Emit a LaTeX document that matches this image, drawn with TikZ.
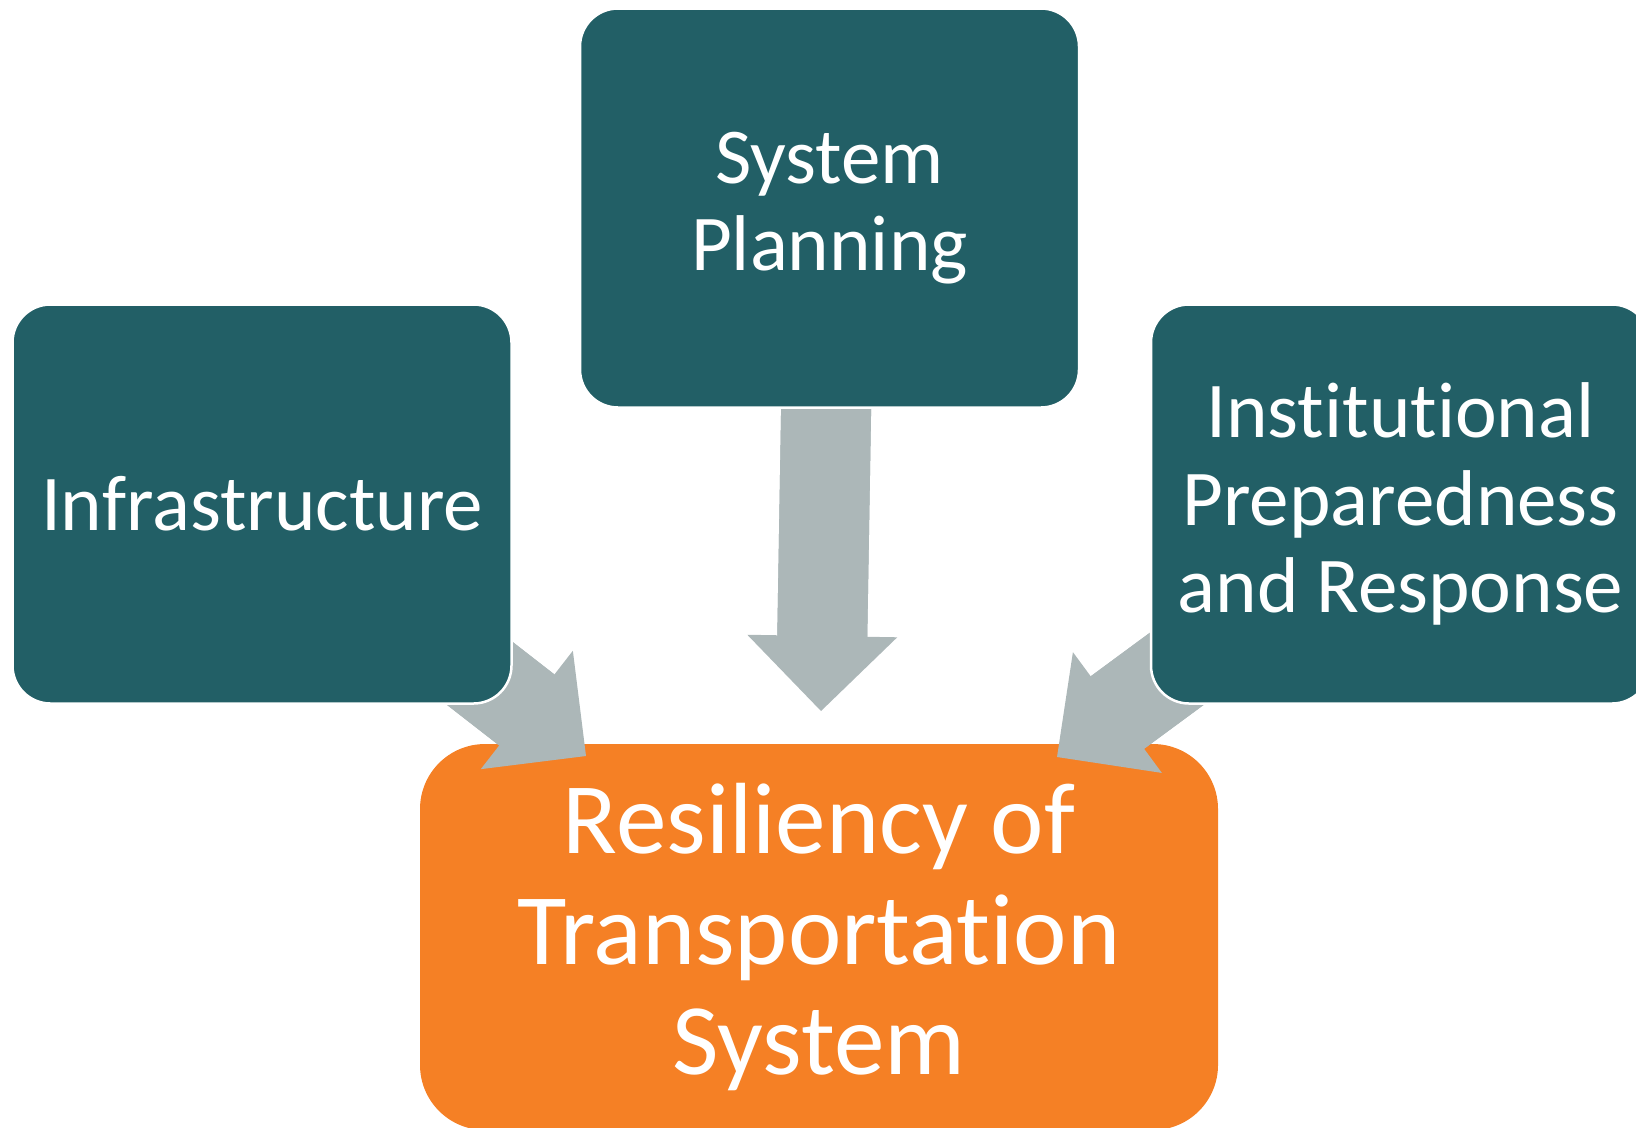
\documentclass[tikz,border=0pt]{standalone}
\usepackage{fontspec}
\setmainfont{Carlito}[Ligatures={NoCommon,NoContextual}]
\usepackage{xcolor}
\usepackage{tikz}
\usetikzlibrary{arrows.meta}
\usetikzlibrary{backgrounds}
\usetikzlibrary{positioning}

\definecolor{boxteal}{HTML}{225F66}
\definecolor{resorange}{HTML}{F58025}
\definecolor{arrowgrey}{HTML}{ACB7B8}

\begin{document}
\begin{tikzpicture}[x=0.1mm,y=-0.1mm,
                    main node/.style={rectangle,rounded corners=3.8mm,fill=boxteal,
                        draw=white,line width=0.25mm,minimum width=49.9mm,minimum height=39.9mm,
                        inner sep=0pt,align=center,text=white,font=\fontsize{22.5}{24.9}\selectfont},
                    result node/.style={rectangle,rounded corners=6.5mm,fill=resorange,
                        minimum width=79.8mm,minimum height=38.6mm,inner sep=0pt,
                        align=center,text=white,font=\fontsize{28.8}{31.5}\selectfont},
                    % shaft drawn twice so it runs a little into the head (no seam)
                    block arrow/.style={draw=arrowgrey,line width=9mm,
                        preaction={draw=arrowgrey,line width=9mm,shorten >=7mm,-},
                        -{Triangle[length=7.5mm,width=15mm,line width=0pt,fill=arrowgrey]}}]

    \useasboundingbox (0,0) rectangle (1636,1127);

    % the three factors
    \node[main node] (plan) at (829.5,208) {System\\Planning};
    \node[main node] (infra) at (262,504) {Infrastructure};
    \node[main node, right=63.7mm of infra] (inst) {Institutional\\Preparedness\\and Response};

    % where the arrow heads stop
    \coordinate (tipI) at (586,756);
    \coordinate (tipP) at (821,711);
    \coordinate (tipR) at (1057,757);

    % result box and arrows go below the factor boxes
    \begin{scope}[on background layer]
        \node[result node] (res) at (819,937) {Resiliency of\\Transportation\\System};
        \draw[block arrow] (infra.center) -- (tipI);
        \draw[block arrow] (plan.center) -- (tipP);
        \draw[block arrow] (inst.center) -- (tipR);
    \end{scope}
\end{tikzpicture}
\end{document}
